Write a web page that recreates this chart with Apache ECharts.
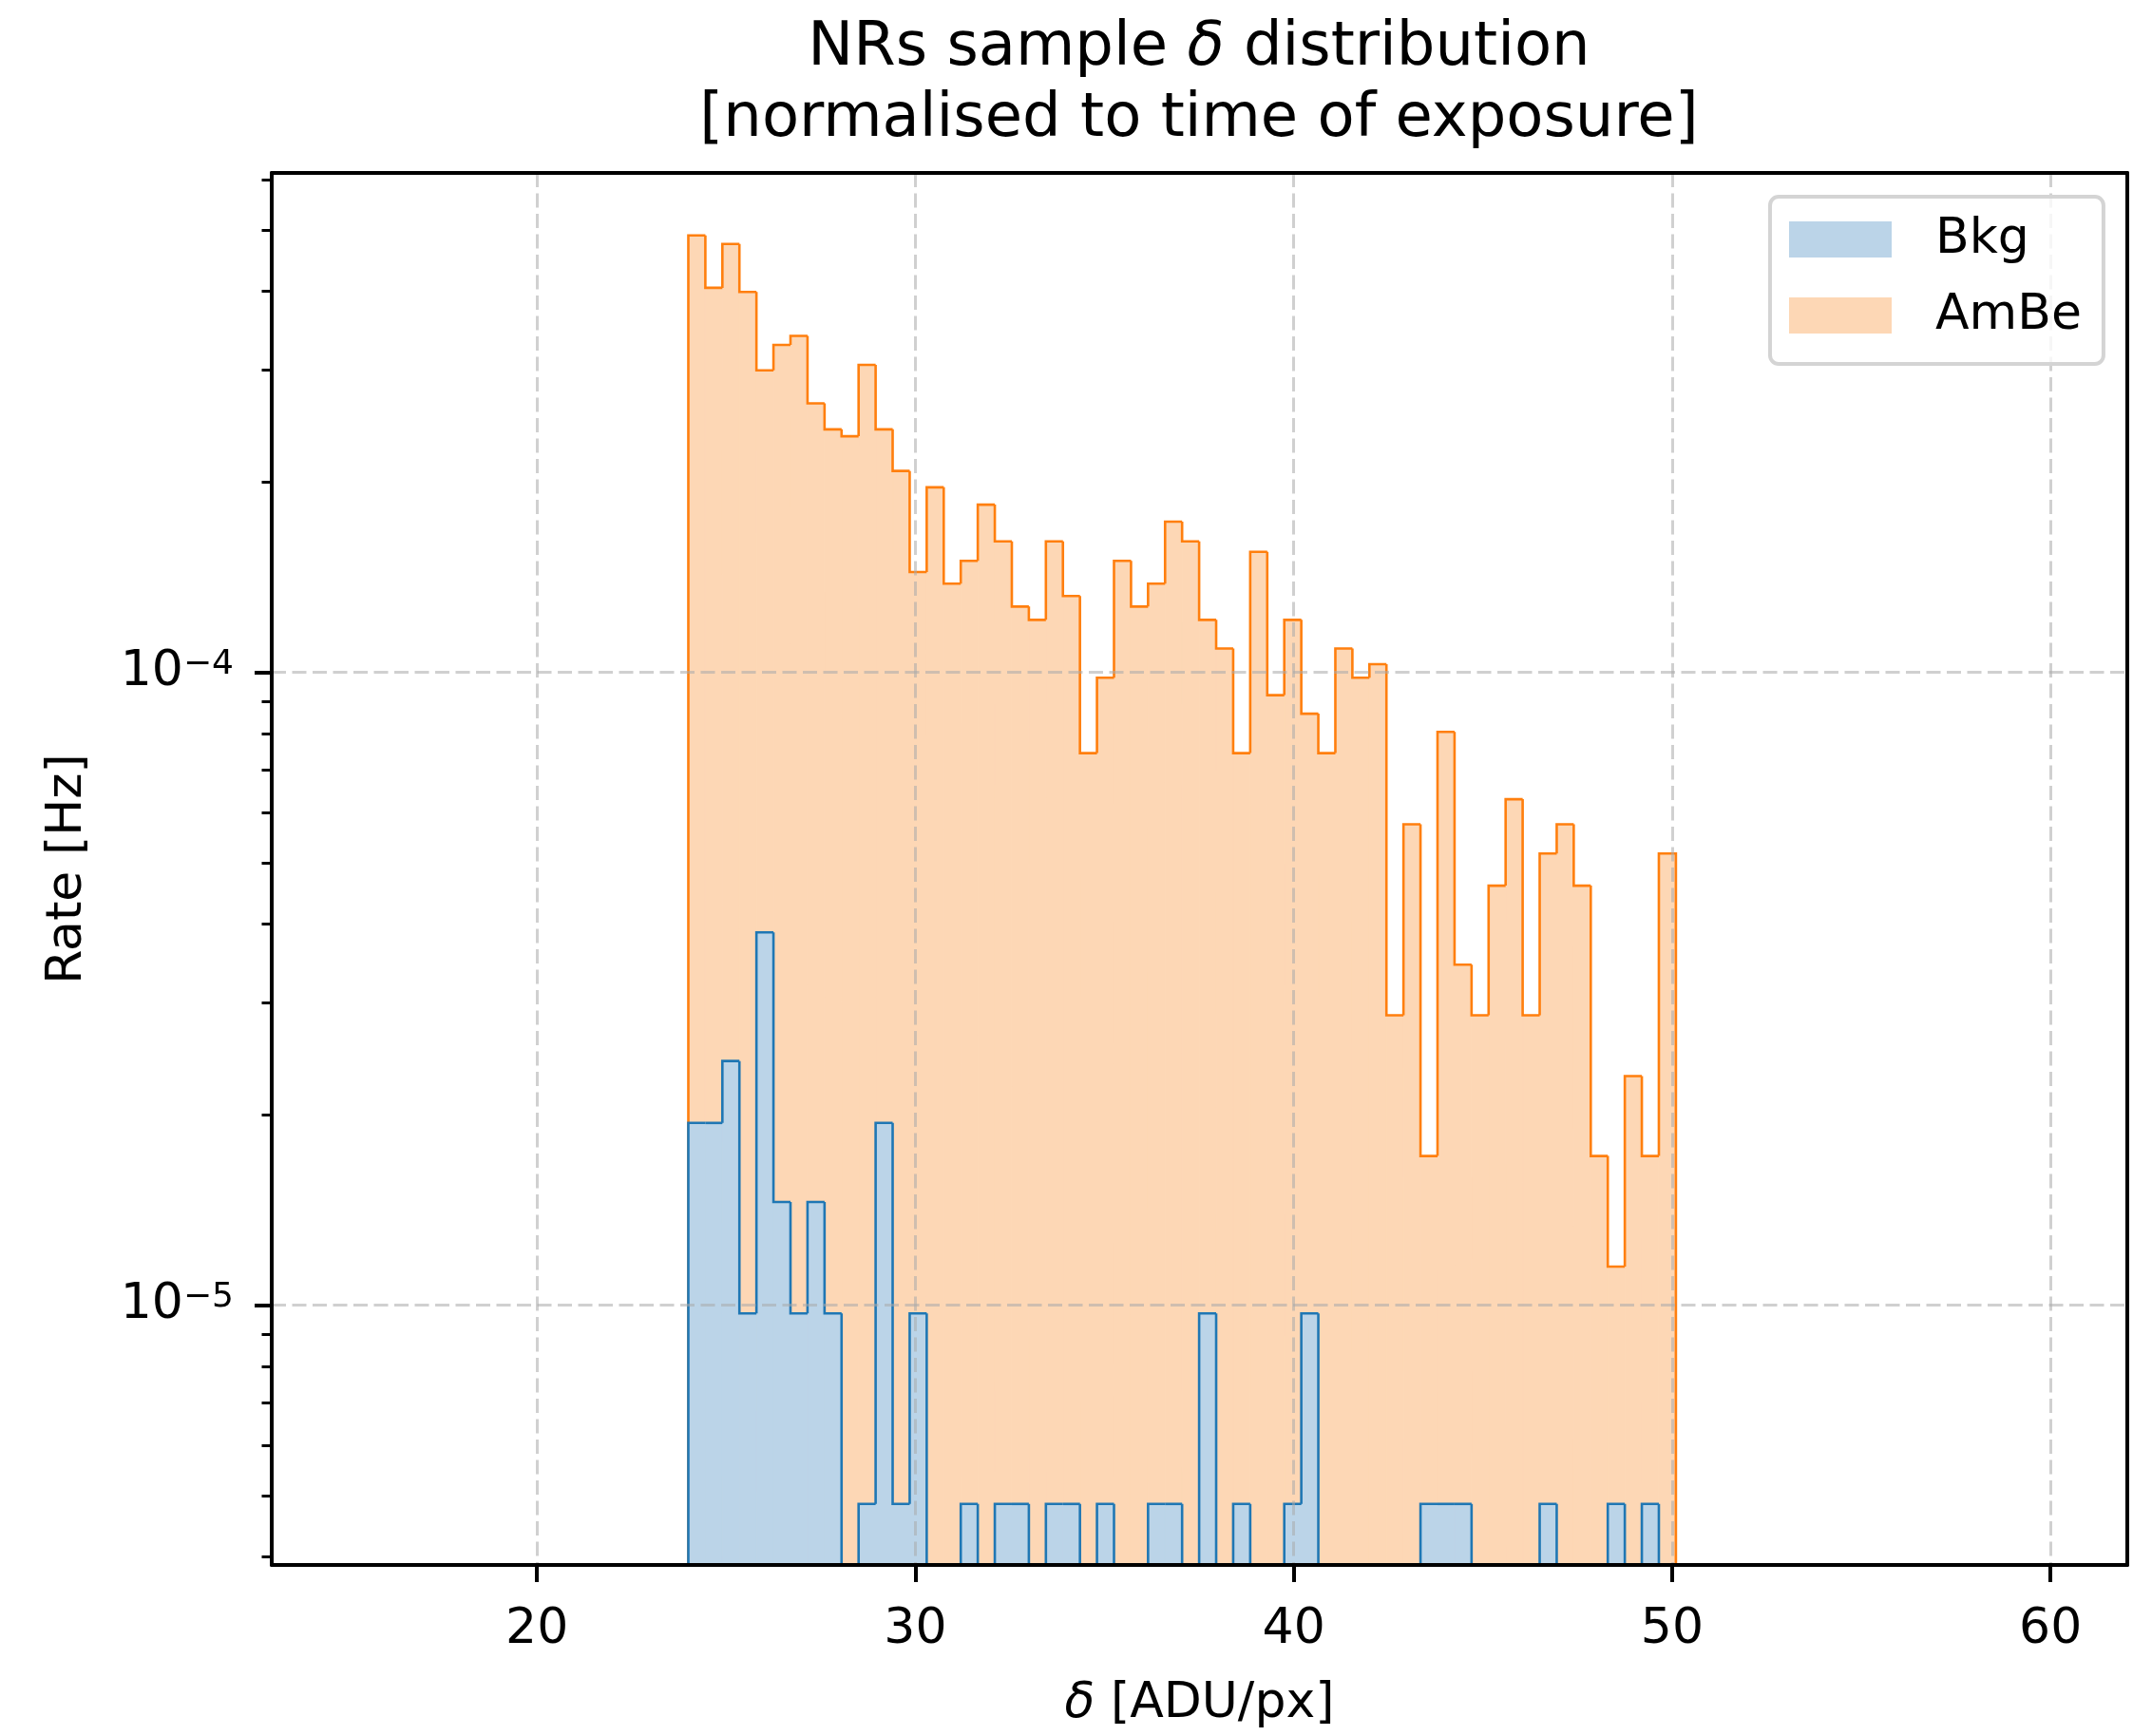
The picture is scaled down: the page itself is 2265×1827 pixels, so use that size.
<!DOCTYPE html>
<html><head><meta charset="utf-8">
<script src="https://cdn.jsdelivr.net/npm/echarts@6/dist/echarts.min.js"></script>
<style>html,body{margin:0;padding:0;background:#fff}#c{width:2265px;height:1827px}</style>
</head><body><div id="c"></div>
<script>
// ---- data ----
const binStart = 24.0;
const binWidth = 0.45;
const bkgRate = [
  1.94e-5, 1.94e-5, 2.43e-5, 9.7e-6, 3.88e-5, 1.455e-5, 9.7e-6, 1.455e-5, 9.7e-6, 0,
  4.85e-6, 1.94e-5, 4.85e-6, 9.7e-6, 0, 0, 4.85e-6, 0, 4.85e-6, 4.85e-6,
  0, 4.85e-6, 4.85e-6, 0, 4.85e-6, 0, 0, 4.85e-6, 4.85e-6, 0,
  9.7e-6, 0, 4.85e-6, 0, 0, 4.85e-6, 9.7e-6, 0, 0, 0,
  0, 0, 0, 4.85e-6, 4.85e-6, 4.85e-6, 0, 0, 0, 0,
  4.85e-6, 0, 0, 0, 4.85e-6, 0, 4.85e-6, 0
];
const ambeRate = [
  4.90e-4, 4.05e-4, 4.75e-4, 3.99e-4, 3.00e-4, 3.29e-4, 3.40e-4, 2.66e-4, 2.42e-4, 2.36e-4,
  3.06e-4, 2.42e-4, 2.08e-4, 1.44e-4, 1.96e-4, 1.38e-4, 1.50e-4, 1.84e-4, 1.61e-4, 1.27e-4,
  1.21e-4, 1.61e-4, 1.32e-4, 7.45e-5, 9.8e-5, 1.50e-4, 1.27e-4, 1.38e-4, 1.73e-4, 1.61e-4,
  1.21e-4, 1.09e-4, 7.45e-5, 1.55e-4, 9.2e-5, 1.21e-4, 8.6e-5, 7.45e-5, 1.09e-4, 9.8e-5,
  1.03e-4, 2.87e-5, 5.75e-5, 1.72e-5, 8.05e-5, 3.45e-5, 2.87e-5, 4.6e-5, 6.3e-5, 2.87e-5,
  5.17e-5, 5.75e-5, 4.6e-5, 1.72e-5, 1.15e-5, 2.3e-5, 1.72e-5, 5.17e-5
];
const seriesNames = ['Bkg', 'AmBe'];
const xTicks = [20, 30, 40, 50, 60];
const yMajorTicks = [1e-5, 1e-4];
const yMinorTicks = [4e-6, 5e-6, 6e-6, 7e-6, 8e-6, 9e-6,
  2e-5, 3e-5, 4e-5, 5e-5, 6e-5, 7e-5, 8e-5, 9e-5,
  2e-4, 3e-4, 4e-4, 5e-4, 6e-4];
const xRange = [12.99, 62.03];
const yRange = [3.884e-6, 6.152e-4];

// ---- styling ----
const FONT = 'DejaVu Sans';
const bkgFill = '#bbd4e8', bkgEdge = '#1f77b4';
const ambeFill = '#fdd7b5', ambeEdge = '#ff7f0e';
const FLOOR = 1e-9;
const gridLine = {show: true, lineStyle: {color: 'rgba(170,170,170,0.55)', width: 3, type: [15, 6.5]}};

function histData(vals) {
  return vals.map((v, i) => [binStart + i * binWidth, binStart + (i + 1) * binWidth, v,
    i > 0 ? vals[i - 1] : 0, i === vals.length - 1 ? 1 : 0]);
}
function fillRender(color) {
  return function (params, api) {
    const v = api.value(2);
    if (!(v > 0)) return null;
    const tl = api.coord([api.value(0), v]);
    const br = api.coord([api.value(1), FLOOR]);
    return {type: 'rect', shape: {x: tl[0], y: tl[1], width: br[0] - tl[0], height: br[1] - tl[1]},
      style: {fill: color, stroke: color, lineWidth: 1}};
  };
}
function edgeRender(color) {
  return function (params, api) {
    const xl = api.value(0), xr = api.value(1);
    const v = api.value(2) > 0 ? api.value(2) : FLOOR;
    const p = api.value(3) > 0 ? api.value(3) : FLOOR;
    const pts = [api.coord([xl, p]), api.coord([xl, v]), api.coord([xr, v])];
    if (api.value(4)) pts.push(api.coord([xr, FLOOR]));
    return {type: 'polyline', shape: {points: pts}, style: {fill: null, stroke: color, lineWidth: 2.6, lineJoin: 'miter'}};
  };
}
function histSeries(name, vals, fill, edge) {
  return [
    {name: name, type: 'custom', data: histData(vals), renderItem: fillRender(fill), clip: true,
      itemStyle: {color: fill}, encode: {x: [0, 1], y: 2}},
    {name: name + '_edge', type: 'custom', data: histData(vals), renderItem: edgeRender(edge), clip: true,
      itemStyle: {color: edge}, encode: {x: [0, 1], y: 2}}
  ];
}
function supLabel(v) {
  const e = Math.round(Math.log10(v));
  return '{b|10}{s|' + (e < 0 ? '\u2212' + (-e) : e) + '}';
}

const chart = echarts.init(document.getElementById('c'), null, {renderer: 'canvas'});
chart.setOption({
  animation: false,
  backgroundColor: '#fff',
  textStyle: {fontFamily: FONT, color: '#000'},
  title: {
    text: '{a|NRs sample }{i|\u03b4}{a| distribution}\n{a|[normalised to time of exposure]}',
    left: 1262, top: 14, textAlign: 'center', padding: 0,
    textStyle: {fontWeight: 'normal', rich: {
      a: {fontSize: 64, lineHeight: 75, fontFamily: FONT, fontWeight: 'normal', color: '#000'},
      i: {fontSize: 64, lineHeight: 75, fontFamily: FONT, fontWeight: 'normal', fontStyle: 'italic', color: '#000'}
    }}
  },
  legend: {
    orient: 'vertical', left: 1863, top: 207, padding: [19, 23, 25, 20],
    itemGap: 28, itemWidth: 108, itemHeight: 38,
    backgroundColor: 'rgba(255,255,255,0.8)', borderColor: '#d4d4d4', borderWidth: 4, borderRadius: 9,
    textStyle: {fontSize: 52, lineHeight: 52, fontFamily: FONT, color: '#000', padding: [0, 0, 0, 41]},
    selectedMode: false, z: 10,
    data: [
      {name: seriesNames[0], icon: 'rect', itemStyle: {color: bkgFill, borderWidth: 0}},
      {name: seriesNames[1], icon: 'rect', itemStyle: {color: ambeFill, borderWidth: 0}}
    ]
  },
  grid: {left: 286, right: 26, top: 182, bottom: 180, containLabel: false},
  xAxis: [
    {type: 'value', min: xRange[0], max: xRange[1], position: 'bottom', z: 6,
      axisLine: {show: true, onZero: false, lineStyle: {color: '#000', width: 4}},
      axisTick: {show: true, customValues: xTicks, length: 18, lineStyle: {color: '#000', width: 4}},
      axisLabel: {show: true, customValues: xTicks, fontSize: 52, fontFamily: FONT, color: '#000', margin: 42},
      splitLine: gridLine,
      name: '{i|\u03b4}{a| [ADU/px]}', nameLocation: 'middle', nameGap: 116,
      nameTextStyle: {rich: {
        a: {fontSize: 52, lineHeight: 60, fontFamily: FONT, color: '#000'},
        i: {fontSize: 52, lineHeight: 60, fontFamily: FONT, fontStyle: 'italic', color: '#000'}
      }}
    },
    {type: 'value', min: xRange[0], max: xRange[1], position: 'top', z: 7,
      axisLine: {show: true, onZero: false, lineStyle: {color: '#000', width: 4}},
      axisTick: {show: false}, axisLabel: {show: false}, splitLine: {show: false}}
  ],
  yAxis: [
    {type: 'log', logBase: 10, min: yRange[0], max: yRange[1], position: 'left', z: 6,
      axisLine: {show: true, onZero: false, lineStyle: {color: '#000', width: 4}},
      axisTick: {show: true, customValues: yMajorTicks, length: 18, lineStyle: {color: '#000', width: 4}},
      axisLabel: {show: true, customValues: yMajorTicks, margin: 40, formatter: supLabel,
        rich: {
          b: {fontSize: 52, lineHeight: 52, fontFamily: FONT, color: '#000'},
          s: {fontSize: 36, lineHeight: 20, fontFamily: FONT, color: '#000', verticalAlign: 'top'}
        }},
      splitLine: gridLine,
      name: 'Rate [Hz]', nameLocation: 'middle', nameRotate: 90, nameGap: 189,
      nameTextStyle: {fontSize: 52, lineHeight: 52, fontFamily: FONT, color: '#000'}
    },
    {type: 'log', logBase: 10, min: yRange[0], max: yRange[1], position: 'left', z: 6,
      axisLine: {show: false},
      axisTick: {show: true, customValues: yMinorTicks, length: 10.5, lineStyle: {color: '#000', width: 3}},
      axisLabel: {show: false}, splitLine: {show: false}},
    {type: 'log', logBase: 10, min: yRange[0], max: yRange[1], position: 'right', z: 7,
      axisLine: {show: true, onZero: false, lineStyle: {color: '#000', width: 4}},
      axisTick: {show: false}, axisLabel: {show: false}, splitLine: {show: false}}
  ],
  series: [].concat(
    histSeries(seriesNames[1], ambeRate, ambeFill, ambeEdge),
    histSeries(seriesNames[0], bkgRate, bkgFill, bkgEdge)
  )
});
</script></body></html>
